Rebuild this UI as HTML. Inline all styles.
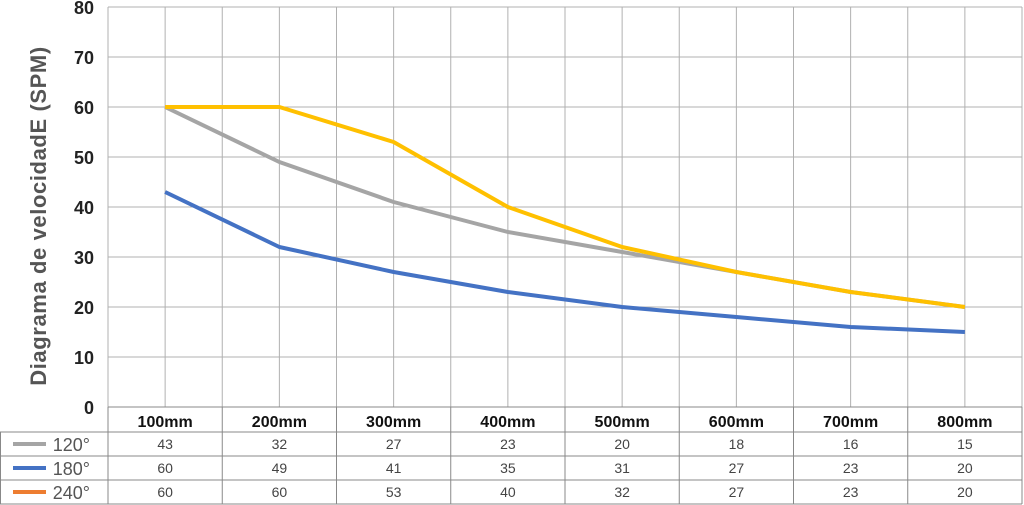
<!DOCTYPE html>
<html><head><meta charset="utf-8"><style>
html,body{margin:0;padding:0;background:#fff;width:1024px;height:505px;overflow:hidden}
svg{display:block;font-family:"Liberation Sans",sans-serif}
</style></head><body>
<svg id="c" width="1024" height="505"></svg>
<script>
const categories=["100mm","200mm","300mm","400mm","500mm","600mm","700mm","800mm"];
const seriesNames=["120°","180°","240°"];
const s120=[43,32,27,23,20,18,16,15];
const s180=[60,49,41,35,31,27,23,20];
const s240=[60,60,53,40,32,27,23,20];
const yTicks=[0,10,20,30,40,50,60,70,80];
const legendColors=["#a5a5a5","#4472c4","#ed7d31"];
const lineColors=["#4472c4","#a5a5a5","#ffc000"];
const NS="http://www.w3.org/2000/svg";
const svg=document.getElementById('c');
const L=108,R=1022,T=7,B=407;
const cw=(R-L)/categories.length;
const x=i=>L+cw*(i+0.5);
const y=v=>B-(v/80)*(B-T);
function mk(t,a,p){const e=document.createElementNS(NS,t);for(const k in a)e.setAttribute(k,a[k]);(p||svg).appendChild(e);return e;}
for(const v of yTicks){
 const l=mk('line',{x1:L,x2:R,y1:y(v),y2:y(v),stroke:'#b0b0b0','stroke-width':1});
 
 
 const t=mk('text',{x:94,y:y(v)+7,'text-anchor':'end','font-size':18,'font-weight':'bold',fill:'#222'});
 t.textContent=v;
 
 
}
for(let i=0;i<=categories.length*2;i++){
 const xx=L+cw/2*i;
 const l=mk('line',{x1:xx,x2:xx,y1:T,y2:B,stroke:'#b0b0b0','stroke-width':1});
 
 
}
const yt=mk('text',{x:0,y:0,transform:'translate(46,216) rotate(-90)','text-anchor':'middle','font-size':22,'font-weight':'bold',fill:'#555','letter-spacing':'0.6'});
yt.textContent='Diagrama de velocidadE  (SPM)';


[s120,s180,s240].forEach((s,k)=>{
 const p=mk('polyline',{points:s.map((v,i)=>x(i)+','+y(v)).join(' '),fill:'none',stroke:lineColors[k],'stroke-width':4,'stroke-linejoin':'round'});
 
 
});
const rows=[407,432,456,480,504];
mk('line',{x1:L,x2:R,y1:407,y2:407,stroke:'#888'});
for(let r=1;r<rows.length;r++){mk('line',{x1:0,x2:R,y1:rows[r],y2:rows[r],stroke:'#888'});}
mk('line',{x1:0.5,x2:0.5,y1:432,y2:504,stroke:'#888'});
for(let i=0;i<=categories.length;i++){mk('line',{x1:L+cw*i,x2:L+cw*i,y1:407,y2:504,stroke:'#888'});}
categories.forEach((c,i)=>{
 const t=mk('text',{x:x(i),y:427,'text-anchor':'middle','font-size':16,'font-weight':'bold',fill:'#111'});
 t.textContent=c;
 
 
});
[s120,s180,s240].forEach((s,k)=>{
 const cy=(rows[k+1]+rows[k+2])/2;
 const lg=mk('line',{x1:13,x2:46,y1:cy,y2:cy,stroke:legendColors[k],'stroke-width':4});
 
 
 const lt=mk('text',{x:90,y:cy+7,'text-anchor':'end','font-size':18,fill:'#555'});
 lt.textContent=seriesNames[k];
 
 
 s.forEach((v,i)=>{
  const t=mk('text',{x:x(i),y:cy+5,'text-anchor':'middle','font-size':14,fill:'#444'});
  t.textContent=v;
  
  
 });
});
</script>
</body></html>
